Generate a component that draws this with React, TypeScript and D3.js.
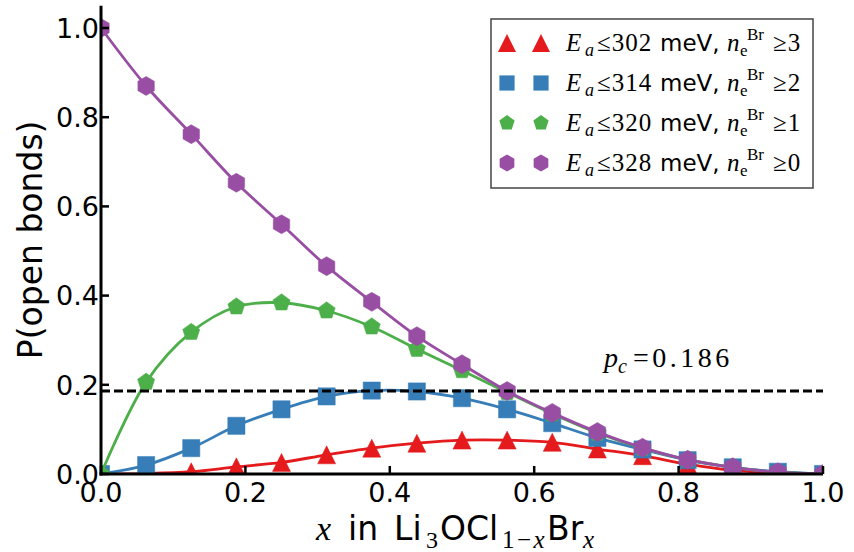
import React, { useRef, useEffect } from 'react';
import * as d3 from 'd3';

// x = Br fraction, sampled every 1/16
const xValues = [0, 0.0625, 0.125, 0.1875, 0.25, 0.3125, 0.375, 0.4375, 0.5, 0.5625, 0.625, 0.6875, 0.75, 0.8125, 0.875, 0.9375, 1.0];
const redValues = [0.0, 0.001, 0.005, 0.016, 0.026, 0.043, 0.058, 0.069, 0.076, 0.076, 0.071, 0.056, 0.041, 0.022, 0.008, 0.002, 0.0];
const blueValues = [0.0, 0.020, 0.058, 0.108, 0.145, 0.174, 0.187, 0.185, 0.170, 0.145, 0.114, 0.081, 0.055, 0.031, 0.015, 0.005, 0.0];
const greenValues = [0.0, 0.206, 0.318, 0.375, 0.384, 0.366, 0.330, 0.280, 0.232, 0.183, 0.135, 0.092, 0.058, 0.032, 0.015, 0.004, 0.0];
const purpleValues = [1.0, 0.870, 0.762, 0.653, 0.560, 0.466, 0.386, 0.309, 0.246, 0.186, 0.137, 0.094, 0.059, 0.032, 0.015, 0.004, 0.0];

const xTicks = [0, 0.2, 0.4, 0.6, 0.8, 1.0];
const yTicks = [0, 0.2, 0.4, 0.6, 0.8, 1.0];
const pc = 0.186;

const legendEnergies = ['302', '314', '320', '328'];
const legendCounts = ['3', '2', '1', '0'];

const SERIF = '"Liberation Serif", "DejaVu Serif", serif';
const SANS = '"DejaVu Sans", sans-serif';

const markerPath = (kind: string, s: number) => {
  if (kind === 'tri') return `M0,${-s}L${s},${s}L${-s},${s}Z`;
  if (kind === 'sq') return `M${-s},${-s}H${s}V${s}H${-s}Z`;
  const n = kind === 'pent' ? 5 : 6;
  const pts = d3.range(n).map((i) => {
    const a = -Math.PI / 2 + (i * 2 * Math.PI) / n;
    return [s * Math.cos(a), s * Math.sin(a)].map((v) => v.toFixed(2)).join(',');
  });
  return 'M' + pts.join('L') + 'Z';
};

const series = [
  { values: redValues, color: '#e41a1c', kind: 'tri', size: 9 },
  { values: blueValues, color: '#377eb8', kind: 'sq', size: 8.6 },
  { values: greenValues, color: '#4daf4a', kind: 'pent', size: 9 },
  { values: purpleValues, color: '#984ea3', kind: 'hex', size: 9.5 },
];

const App = () => {
  const ref = useRef<SVGSVGElement>(null);

  useEffect(() => {
    const svg = d3.select(ref.current);
    svg.selectAll('*').remove();

    const x = d3.scaleLinear().domain([0, 1]).range([101, 823]);
    const y = d3.scaleLinear().domain([0, 1.05]).range([474, 474 - 1.05 * 446]);

    svg
      .append('defs')
      .append('clipPath')
      .attr('id', 'plotclip')
      .append('rect')
      .attr('x', x(0))
      .attr('y', y(1.05))
      .attr('width', x(1) - x(0))
      .attr('height', y(0) - y(1.05));

    const plot = svg.append('g').attr('clip-path', 'url(#plotclip)');

    const line = d3
      .line<number>()
      .x((d, i) => x(xValues[i]))
      .y((d) => y(d))
      .curve(d3.curveCatmullRom.alpha(0.5));

    series.forEach((s) => {
      plot
        .append('path')
        .attr('d', line(s.values))
        .attr('fill', 'none')
        .attr('stroke', s.color)
        .attr('stroke-width', 2.8);
      plot
        .selectAll(null)
        .data(s.values)
        .enter()
        .append('path')
        .attr('transform', (d, i) => `translate(${x(xValues[i])},${y(d)})`)
        .attr('d', markerPath(s.kind, s.size))
        .attr('fill', s.color)
        .attr('stroke', s.color)
        .attr('stroke-width', 0.5);
    });

    // critical threshold
    svg
      .append('line')
      .attr('x1', x(0))
      .attr('x2', x(1))
      .attr('y1', y(pc))
      .attr('y2', y(pc))
      .attr('stroke', '#000')
      .attr('stroke-width', 3)
      .attr('stroke-dasharray', '9,4');

    const pcText = svg
      .append('text')
      .attr('x', 604)
      .attr('y', 367)
      .attr('font-family', SERIF)
      .attr('font-size', 28);
    pcText.append('tspan').attr('font-style', 'italic').text('p');
    pcText.append('tspan').attr('font-style', 'italic').attr('font-size', 20).attr('dy', 6).text('c');
    pcText.append('tspan').attr('dy', -6).attr('dx', 6).attr('letter-spacing', 3.5).text('=0.186');

    // axes
    svg
      .append('line')
      .attr('x1', x(0))
      .attr('x2', x(0))
      .attr('y1', y(1.05))
      .attr('y2', y(0) + 1.5)
      .attr('stroke', '#000')
      .attr('stroke-width', 3);
    svg
      .append('line')
      .attr('x1', x(0) - 1.5)
      .attr('x2', x(1))
      .attr('y1', y(0))
      .attr('y2', y(0))
      .attr('stroke', '#000')
      .attr('stroke-width', 3);

    const fmt = d3.format('.1f');

    xTicks.forEach((t) => {
      svg
        .append('line')
        .attr('x1', x(t))
        .attr('x2', x(t))
        .attr('y1', y(0))
        .attr('y2', y(0) - 8)
        .attr('stroke', '#000')
        .attr('stroke-width', 2.5);
      svg
        .append('text')
        .attr('x', x(t))
        .attr('y', 502)
        .attr('text-anchor', 'middle')
        .attr('font-family', SANS)
        .attr('font-size', 27)
        .text(fmt(t));
    });

    yTicks.forEach((t) => {
      svg
        .append('line')
        .attr('x1', x(0))
        .attr('x2', x(0) + 8)
        .attr('y1', y(t))
        .attr('y2', y(t))
        .attr('stroke', '#000')
        .attr('stroke-width', 2.5);
      svg
        .append('text')
        .attr('x', 99)
        .attr('y', y(t))
        .attr('dy', '0.36em')
        .attr('text-anchor', 'end')
        .attr('font-family', SANS)
        .attr('font-size', 27)
        .text(fmt(t));
    });

    svg
      .append('text')
      .attr('transform', `translate(42,${(y(0) + y(1.05)) / 2}) rotate(-90)`)
      .attr('text-anchor', 'middle')
      .attr('font-family', SANS)
      .attr('font-size', 33)
      .text('P(open bonds)');

    // x label: x in Li3OCl(1-x)Br(x), pieces placed like mathtext does
    const xl = svg
      .append('text')
      .attr('y', 540)
      .attr('font-family', SANS)
      .attr('font-size', 33);
    xl.append('tspan').attr('x', 316).attr('font-family', SERIF).attr('font-style', 'italic').attr('font-size', 34).text('x');
    xl.append('tspan').attr('x', 348).text('in');
    xl.append('tspan').attr('x', 394).text('Li');
    xl.append('tspan').attr('x', 426).attr('y', 548).attr('font-family', SERIF).attr('font-size', 24).text('3');
    xl.append('tspan').attr('x', 440).attr('y', 540).text('OCl');
    xl.append('tspan').attr('x', 502).attr('y', 548).attr('font-family', SERIF).attr('font-size', 25).attr('letter-spacing', 2.5).text('1−');
    xl.append('tspan').attr('font-family', SERIF).attr('font-style', 'italic').attr('font-size', 25).text('x');
    xl.append('tspan').attr('x', 547).attr('y', 540).text('Br');
    xl.append('tspan').attr('x', 583).attr('y', 548).attr('font-family', SERIF).attr('font-style', 'italic').attr('font-size', 25).text('x');

    // legend
    const legend = svg.append('g');
    legend
      .append('rect')
      .attr('x', 491)
      .attr('y', 19)
      .attr('width', 322)
      .attr('height', 169)
      .attr('fill', '#fff')
      .attr('stroke', '#444')
      .attr('stroke-width', 1.5);

    series.forEach((s, i) => {
      const cy = 43 + i * 40;
      const base = cy + 8;
      [507, 541].forEach((mx) => {
        legend
          .append('path')
          .attr('transform', `translate(${mx},${cy})`)
          .attr('d', markerPath(s.kind, s.kind === 'tri' ? s.size : s.size - 1))
          .attr('fill', s.color);
      });
      const t = legend.append('text').attr('y', base).attr('font-family', SERIF).attr('font-size', 25);
      t.append('tspan').attr('x', 566).attr('font-style', 'italic').text('E');
      t.append('tspan').attr('x', 585).attr('y', base + 5).attr('font-style', 'italic').attr('font-size', 18).text('a');
      t.append('tspan').attr('x', 597).attr('y', base).attr('letter-spacing', 1).text('≤' + legendEnergies[i]);
      t.append('tspan').attr('x', 660).attr('font-family', SANS).attr('font-size', 23).text('meV,');
      t.append('tspan').attr('x', 727).attr('font-style', 'italic').text('n');
      t.append('tspan').attr('x', 740).attr('y', base + 5).attr('font-size', 17).text('e');
      t.append('tspan').attr('x', 747).attr('y', base - 11).attr('font-size', 17).text('Br');
      t.append('tspan').attr('x', 773).attr('y', base).attr('letter-spacing', 1).text('≥' + legendCounts[i]);
    });
  }, []);

  return (
    <svg
      ref={ref}
      width={854}
      height={552}
      style={{ position: 'absolute', left: 0, top: 0, background: '#fff' }}
    ></svg>
  );
};

export default App;
